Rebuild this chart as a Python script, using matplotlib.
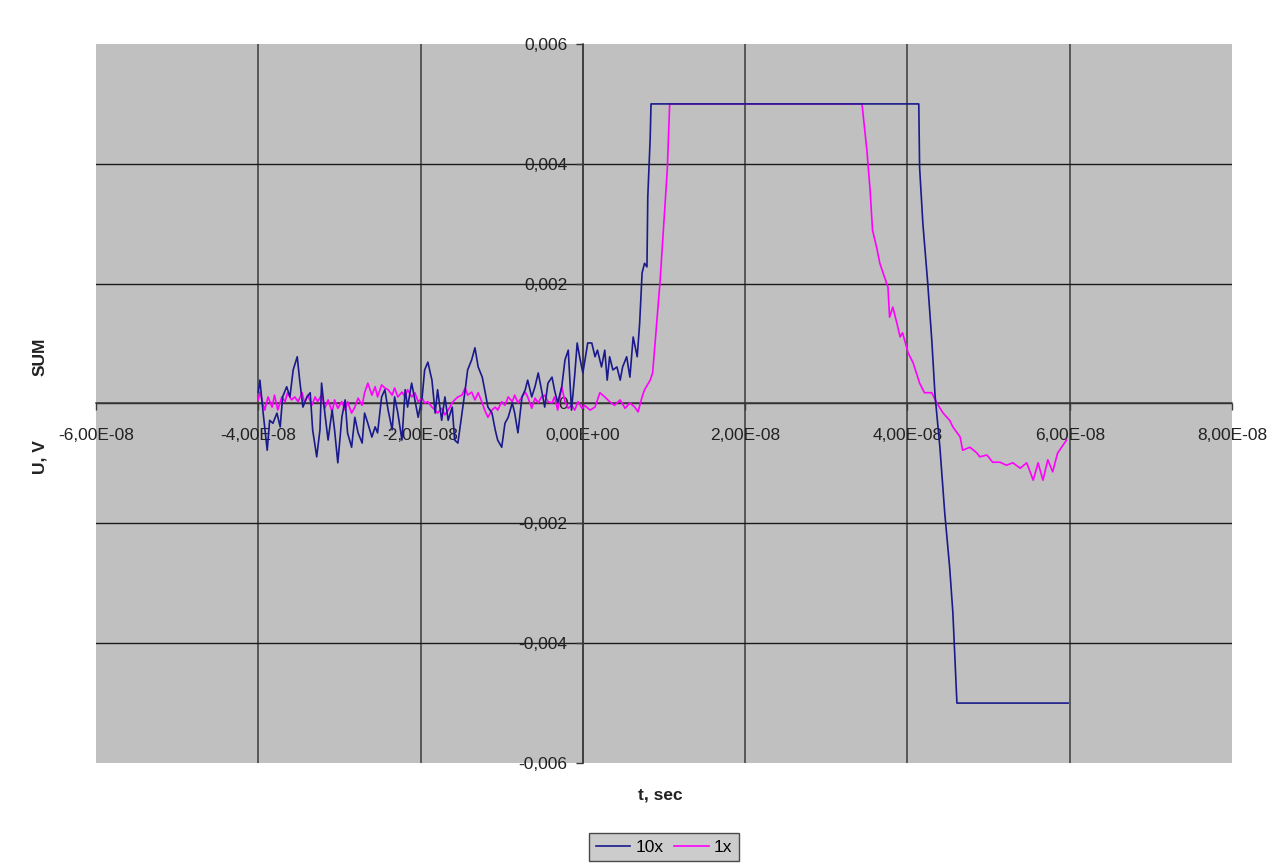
import matplotlib
matplotlib.use("Agg")
import matplotlib.pyplot as plt
import numpy as np

plt.rcParams['font.family'] = ['Liberation Sans', 'DejaVu Sans']

# ---- data: time in ns, voltage in mV ----
t10_ns = [
    -40.0, -39.8, -39.4, -38.9, -38.6, -38.2, -37.7, -37.3, -37.0, -36.5,
    -36.1, -35.7, -35.2, -34.9, -34.5, -34.0, -33.6, -33.3, -32.8, -32.4,
    -32.2, -31.8, -31.4, -30.9, -30.6, -30.2, -29.7, -29.3, -29.0, -28.5,
    -28.1, -27.7, -27.2, -26.9, -26.5, -26.0, -25.6, -25.3, -24.8, -24.4,
    -24.0, -23.5, -23.2, -22.8, -22.3, -21.9, -21.6, -21.1, -20.7, -20.3,
    -19.8, -19.5, -19.1, -18.6, -18.2, -17.9, -17.4, -17.0, -16.6, -16.1,
    -15.8, -15.4, -14.9, -14.5, -14.2, -13.7, -13.3, -12.9, -12.4, -12.1,
    -11.7, -11.2, -10.8, -10.5, -10.0, -9.6, -9.2, -8.7, -8.4, -8.0,
    -7.5, -7.1, -6.8, -6.3, -5.9, -5.5, -5.1, -4.7, -4.3, -3.8,
    -3.5, -3.1, -2.6, -2.2, -1.8, -1.4, -1.0, -0.7, -0.4, 0.0,
    0.6, 1.1, 1.5, 1.8, 2.3, 2.7, 3.0, 3.3, 3.7, 4.2,
    4.6, 4.9, 5.4, 5.8, 6.2, 6.7, 7.0, 7.3, 7.6, 7.9,
    8.0, 8.3, 8.4, 41.4, 41.5, 41.9, 42.5, 43.0, 43.4, 44.0,
    44.6, 45.2, 45.6, 46.1, 59.8,
]
u10_mv = [
    0.19, 0.39, -0.16, -0.78, -0.28, -0.33, -0.16, -0.39, 0.11, 0.28,
    0.11, 0.56, 0.78, 0.39, -0.06, 0.11, 0.18, -0.44, -0.89, -0.44,
    0.34, -0.16, -0.61, -0.11, -0.44, -0.99, -0.23, 0.06, -0.49, -0.73,
    -0.23, -0.49, -0.66, -0.16, -0.33, -0.56, -0.39, -0.49, 0.11, 0.23,
    -0.11, -0.44, 0.11, -0.16, -0.61, 0.23, -0.06, 0.34, 0.06, -0.23,
    0.11, 0.56, 0.69, 0.39, -0.16, 0.23, -0.28, 0.11, -0.28, -0.06,
    -0.61, -0.66, -0.16, 0.23, 0.56, 0.73, 0.93, 0.61, 0.44, 0.23,
    -0.06, -0.16, -0.44, -0.61, -0.73, -0.33, -0.23, 0.01, -0.16, -0.49,
    0.11, 0.23, 0.39, 0.11, 0.28, 0.51, 0.23, -0.06, 0.34, 0.44,
    0.23, 0.01, 0.28, 0.73, 0.89, -0.11, 0.48, 1.01, 0.78, 0.51,
    1.01, 1.01, 0.78, 0.89, 0.61, 0.89, 0.39, 0.78, 0.56, 0.61,
    0.39, 0.61, 0.78, 0.44, 1.11, 0.78, 1.34, 2.18, 2.34, 2.28,
    3.44, 4.44, 5.0, 5.0, 3.94, 3.01, 2.01, 1.06, 0.14, -0.73,
    -1.83, -2.73, -3.49, -5.0, -5.0,
]

t1_ns = [
    -40.0, -39.8, -39.2, -38.8, -38.3, -38.0, -37.6, -37.1, -36.7, -36.4,
    -35.9, -35.5, -35.1, -34.6, -34.3, -33.9, -33.4, -33.0, -32.7, -32.2,
    -31.8, -31.4, -30.9, -30.6, -30.2, -29.7, -29.3, -29.0, -28.5, -28.1,
    -27.7, -27.2, -26.9, -26.5, -26.0, -25.6, -25.3, -24.8, -24.4, -24.0,
    -23.5, -23.2, -22.8, -22.3, -21.9, -21.6, -21.1, -20.7, -20.3, -19.8,
    -19.5, -19.1, -18.6, -18.2, -17.9, -17.4, -17.0, -16.6, -16.1, -15.8,
    -15.4, -14.9, -14.5, -14.2, -13.7, -13.3, -12.9, -12.4, -12.1, -11.7,
    -11.2, -10.8, -10.5, -10.0, -9.6, -9.2, -8.7, -8.4, -8.0, -7.5,
    -7.1, -6.8, -6.3, -5.9, -5.5, -5.1, -4.7, -4.3, -3.8, -3.5,
    -3.1, -2.6, -2.2, -1.8, -1.4, -1.0, -0.6, -0.1, 0.2, 0.9,
    1.5, 2.1, 2.7, 3.3, 3.9, 4.6, 5.2, 5.8, 6.4, 6.8,
    7.3, 7.6, 8.3, 8.6, 9.1, 9.5, 9.9, 10.4, 10.7, 34.4,
    35.0, 35.4, 35.7, 36.2, 36.6, 37.0, 37.6, 37.8, 38.2, 38.7,
    39.1, 39.4, 40.1, 40.7, 41.5, 42.1, 43.0, 43.6, 44.4, 45.2,
    45.6, 46.5, 46.8, 47.7, 48.6, 48.9, 49.8, 50.5, 51.4, 52.2,
    53.0, 53.9, 54.7, 55.5, 56.1, 56.7, 57.3, 57.9, 58.5, 59.6,
]
u1_mv = [
    0.06, 0.19, -0.11, 0.11, -0.06, 0.14, -0.11, 0.11, 0.03, 0.18,
    0.06, 0.11, 0.03, 0.18, 0.01, 0.14, -0.03, 0.11, 0.03, 0.14,
    -0.08, 0.06, -0.14, 0.06, -0.08, 0.03, -0.11, 0.03, -0.16, -0.06,
    0.09, -0.03, 0.18, 0.34, 0.14, 0.28, 0.11, 0.31, 0.26, 0.23,
    0.14, 0.26, 0.11, 0.19, 0.11, 0.23, 0.11, 0.18, 0.03, 0.09,
    0.01, 0.03, -0.06, -0.11, -0.16, -0.08, -0.19, -0.11, 0.01, 0.06,
    0.11, 0.14, 0.26, 0.14, 0.19, 0.06, 0.18, 0.01, -0.11, -0.23,
    -0.11, -0.06, -0.11, 0.03, -0.03, 0.11, 0.03, 0.14, 0.01, 0.11,
    0.19, 0.11, -0.08, 0.09, 0.01, 0.11, 0.14, 0.03, 0.01, 0.11,
    -0.11, 0.28, 0.03, -0.08, -0.03, -0.11, 0.03, -0.08, -0.03, -0.11,
    -0.06, 0.18, 0.11, 0.03, -0.03, 0.06, -0.08, 0.01, -0.06, -0.14,
    0.11, 0.23, 0.39, 0.51, 1.34, 2.01, 2.84, 3.89, 5.0, 5.0,
    4.23, 3.56, 2.89, 2.61, 2.34, 2.18, 1.94, 1.44, 1.61, 1.34,
    1.11, 1.18, 0.84, 0.68, 0.34, 0.18, 0.18, 0.01, -0.16, -0.28,
    -0.39, -0.56, -0.78, -0.73, -0.83, -0.89, -0.86, -0.98, -0.98, -1.03,
    -0.99, -1.08, -0.99, -1.28, -0.99, -1.28, -0.94, -1.14, -0.83, -0.61,
]

series_names = ["10x", "1x"]
x_ticks = [-6e-8, -4e-8, -2e-8, 0.0, 2e-8, 4e-8, 6e-8, 8e-8]
x_tick_labels = ["-6,00E-08", "-4,00E-08", "-2,00E-08", "0,00E+00",
                 "2,00E-08", "4,00E-08", "6,00E-08", "8,00E-08"]
y_ticks = [-0.006, -0.004, -0.002, 0.0, 0.002, 0.004, 0.006]
y_tick_labels = ["-0,006", "-0,004", "-0,002", "0", "0,002", "0,004", "0,006"]

W, H = 1285, 866
fig = plt.figure(figsize=(W / 100, H / 100), dpi=100, facecolor="white")
ax = fig.add_axes([96 / W, 1 - 763 / H, (1232 - 96) / W, (763 - 44) / H])
ax.set_facecolor("#C0C0C0")

ax.set_xlim(-6e-8, 8e-8)
ax.set_ylim(-0.006, 0.006)

# interior gridlines
for xv in x_ticks[1:-1]:
    ax.axvline(xv, color="#3a3a3a", lw=1.1, zorder=1)
for yv in y_ticks[1:-1]:
    ax.axhline(yv, color="#1a1a1a", lw=1.0, zorder=1)

t10 = np.array(t10_ns) * 1e-9
u10 = np.array(u10_mv) * 1e-3
t1 = np.array(t1_ns) * 1e-9
u1 = np.array(u1_mv) * 1e-3

ax.plot(t10, u10, color="#1a1a8c", lw=1.2, label=series_names[0], zorder=4)
ax.plot(t1, u1, color="#FF00FF", lw=1.2, label=series_names[1], zorder=3)

for s in ["top", "right"]:
    ax.spines[s].set_visible(False)
ax.spines["left"].set_position(("data", 0))
ax.spines["bottom"].set_position(("data", 0))
ax.spines["left"].set_color("#3a3a3a")
ax.spines["bottom"].set_color("#3a3a3a")
ax.spines["left"].set_linewidth(1.1)
ax.spines["bottom"].set_linewidth(1.1)

ax.set_xticks(x_ticks)
ax.set_xticklabels(x_tick_labels)
ax.set_yticks(y_ticks)
ax.set_yticklabels(y_tick_labels)
ax.tick_params(axis="x", direction="out", length=5, width=1, color="#3a3a3a",
               pad=13, labelsize=12.5, labelcolor="#222222")
ax.tick_params(axis="y", direction="out", length=5, width=1, color="#3a3a3a",
               pad=6, labelsize=12.5, labelcolor="#222222")

fig.text(660 / W, 1 - 795 / H, "t, sec", ha="center", va="center",
         fontsize=12.5, fontweight="bold", color="#222222")
fig.text(40 / W, 1 - 357 / H, "SUM", ha="center", va="center", rotation=90,
         fontsize=12.5, fontweight="bold", color="#222222")
fig.text(40 / W, 1 - 457 / H, "U, V", ha="center", va="center", rotation=90,
         fontsize=12.5, fontweight="bold", color="#222222")

leg = fig.legend(loc="center", bbox_to_anchor=(664 / W, 1 - 847 / H), ncol=2,
                 frameon=True, fancybox=False, fontsize=12.5,
                 handlelength=2.0, handletextpad=0.3, columnspacing=0.6,
                 borderpad=0.35, borderaxespad=0)
leg.get_frame().set_facecolor("#C0C0C0")
leg.get_frame().set_edgecolor("#222222")
leg.get_frame().set_linewidth(1.0)

fig.savefig("out.png", dpi=100, facecolor="white")
